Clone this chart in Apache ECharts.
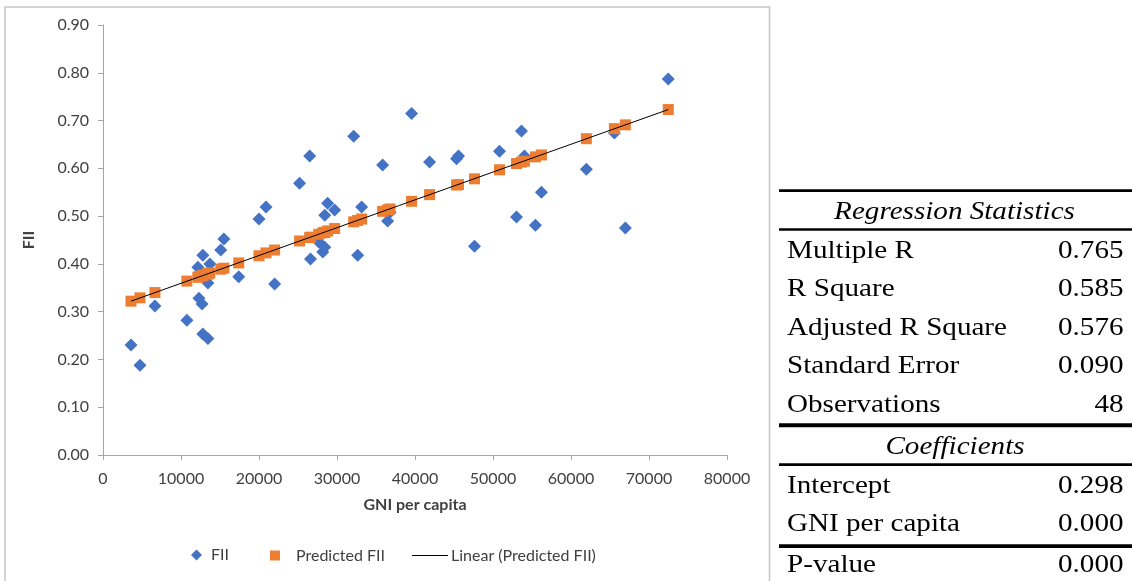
<!DOCTYPE html>
<html>
<head>
<meta charset="utf-8">
<script src="https://cdn.jsdelivr.net/npm/echarts@6/dist/echarts.min.js"></script>
<style>
html,body{margin:0;padding:0;background:#fff;}
#chart{width:1132px;height:581px;}
</style>
</head>
<body>
<div id="chart"></div>
<script>
// ---- Data ----
const gni = [3590,4740,6660,10750,12160,12300,12700,12800,12800,13450,13450,13700,15100,15500,17400,20000,20900,22000,25200,26500,26600,27660,28170,28430,28430,28800,29700,32140,32650,33160,35850,36490,36800,39560,41870,45330,45580,47630,50830,53010,53650,54030,55440,56210,61970,65560,66970,72470];
const fii = [0.230,0.188,0.312,0.282,0.393,0.328,0.316,0.418,0.253,0.244,0.360,0.400,0.429,0.452,0.373,0.494,0.519,0.358,0.569,0.626,0.410,0.446,0.425,0.435,0.502,0.527,0.513,0.667,0.418,0.519,0.607,0.490,0.508,0.715,0.613,0.620,0.626,0.437,0.636,0.498,0.678,0.626,0.481,0.550,0.598,0.674,0.475,0.787];
const predictedFii = [0.322,0.329,0.340,0.364,0.372,0.373,0.375,0.376,0.376,0.379,0.379,0.381,0.389,0.391,0.402,0.417,0.423,0.429,0.448,0.455,0.456,0.462,0.465,0.466,0.466,0.469,0.474,0.488,0.491,0.494,0.510,0.513,0.515,0.531,0.545,0.565,0.566,0.578,0.597,0.610,0.613,0.615,0.624,0.628,0.662,0.683,0.691,0.723];
const trendX = [3590, 72470];
const trendY = [0.322, 0.723];

const seriesNames = ['FII', 'Predicted FII', 'Linear (Predicted FII)'];
const xTitle = 'GNI per capita';
const yTitle = 'FII';

const statsHeader = 'Regression Statistics';
const statLabels = ['Multiple R', 'R Square', 'Adjusted R Square', 'Standard Error', 'Observations'];
const statValues = ['0.765', '0.585', '0.576', '0.090', '48'];
const coefHeader = 'Coefficients';
const coefLabels = ['Intercept', 'GNI per capita'];
const coefValues = ['0.298', '0.000'];
const pLabels = ['P-value'];
const pValues = ['0.000'];

// ---- Build ----
const fiiData = gni.map((g, i) => [g, fii[i]]);
const predData = gni.map((g, i) => [g, predictedFii[i]]);
const trendData = trendX.map((x, i) => [x, trendY[i]]);

const FONT = 'Lato, "Open Sans", sans-serif';
const SERIF = '"Liberation Serif", "DejaVu Serif", serif';
const TXT = '#404040';
const FS_AX = 16;

const graphics = [];
// chart border
graphics.push({type:'rect', shape:{x:5, y:7, width:764.5, height:600}, style:{fill:'none', stroke:'#C6C6C6', lineWidth:1.5}, silent:true, z:-10});

// table rules
const rules = [[189.3,2.7],[228.3,2.4],[423.3,4],[463.3,2.7],[544.3,3.8]];
rules.forEach(r => graphics.push({type:'rect', shape:{x:779, y:r[0], width:353, height:r[1]}, style:{fill:'#000'}, silent:true}));

const SX = 1.12, FS = 26;
function txt(x, y, text, align, italic){
  graphics.push({type:'text', x:x, y:y, scaleX:SX, style:{text:text, x:0, y:0, textAlign:align, textVerticalAlign:'middle', font:(italic?'italic ':'') + FS + 'px ' + SERIF, fill:'#000'}, silent:true});
}
txt(954.5, 212, statsHeader, 'center', true);
const statY = [251, 289.5, 328, 366.5, 405];
statLabels.forEach((l,i)=>{ txt(787, statY[i], l, 'left'); txt(1123.5, statY[i], statValues[i], 'right'); });
txt(955, 447, coefHeader, 'center', true);
const coefY = [486, 524];
coefLabels.forEach((l,i)=>{ txt(787, coefY[i], l, 'left'); txt(1123.5, coefY[i], coefValues[i], 'right'); });
const pY = [565];
pLabels.forEach((l,i)=>{ txt(787, pY[i], l, 'left'); txt(1123.5, pY[i], pValues[i], 'right'); });

const legendText = {fontFamily: FONT, fontSize: FS_AX, color: TXT};

const option = {
  animation: false,
  backgroundColor: '#fff',
  grid: {left: 103, right: 1132 - 727, top: 25, bottom: 581 - 455, containLabel: false},
  xAxis: {
    type: 'value', min: 0, max: 80000, interval: 10000,
    name: xTitle, nameLocation: 'middle', nameGap: 42,
    nameTextStyle: {fontFamily: FONT, fontSize: FS_AX, fontWeight: 'bold', color: TXT},
    axisLine: {show: true, lineStyle: {color: '#A6A6A6', width: 1}},
    axisTick: {show: true, length: 5, lineStyle: {color: '#A6A6A6'}},
    axisLabel: {fontFamily: FONT, fontSize: FS_AX, color: TXT, margin: 16, formatter: v => String(v)},
    splitLine: {show: false}
  },
  yAxis: {
    type: 'value', min: 0, max: 0.9, interval: 0.1,
    name: yTitle, nameLocation: 'middle', nameGap: 66, nameRotate: 90,
    nameTextStyle: {fontFamily: FONT, fontSize: FS_AX, fontWeight: 'bold', color: TXT},
    axisLine: {show: true, lineStyle: {color: '#A6A6A6', width: 1}},
    axisTick: {show: true, length: 5, lineStyle: {color: '#A6A6A6'}},
    axisLabel: {fontFamily: FONT, fontSize: FS_AX, color: TXT, margin: 14, formatter: v => v.toFixed(2)},
    splitLine: {show: false}
  },
  legend: [
    {data: [{name: seriesNames[0], icon: 'diamond'}], left: 186, top: 542, itemWidth: 11, itemHeight: 11, textStyle: Object.assign({padding:[0,0,0,4]}, legendText)},
    {data: [{name: seriesNames[1], icon: 'rect'}], left: 265, top: 542.5, itemWidth: 10, itemHeight: 10, textStyle: Object.assign({padding:[0,0,0,11]}, legendText)},
    {data: [{name: seriesNames[2], icon: 'path://M0,0H36V1H0Z'}], left: 407, top: 542.5, itemWidth: 36, itemHeight: 10, textStyle: Object.assign({padding:[0,0,0,-2]}, legendText)}
  ],
  series: [
    {name: seriesNames[0], type: 'scatter', data: fiiData, symbol: 'diamond', symbolSize: 13,
     itemStyle: {color: '#4472C4', opacity: 1}},
    {name: seriesNames[1], type: 'scatter', data: predData, symbol: 'rect', symbolSize: 11,
     itemStyle: {color: '#ED7D31', opacity: 1}},
    {name: seriesNames[2], type: 'line', data: trendData, symbol: 'none', showSymbol: false,
     lineStyle: {color: '#000', width: 1}, itemStyle: {color: '#000'}}
  ],
  graphic: graphics
};

const chart = echarts.init(document.getElementById('chart'), null, {renderer: 'canvas'});
chart.setOption(option);
</script>
</body>
</html>
